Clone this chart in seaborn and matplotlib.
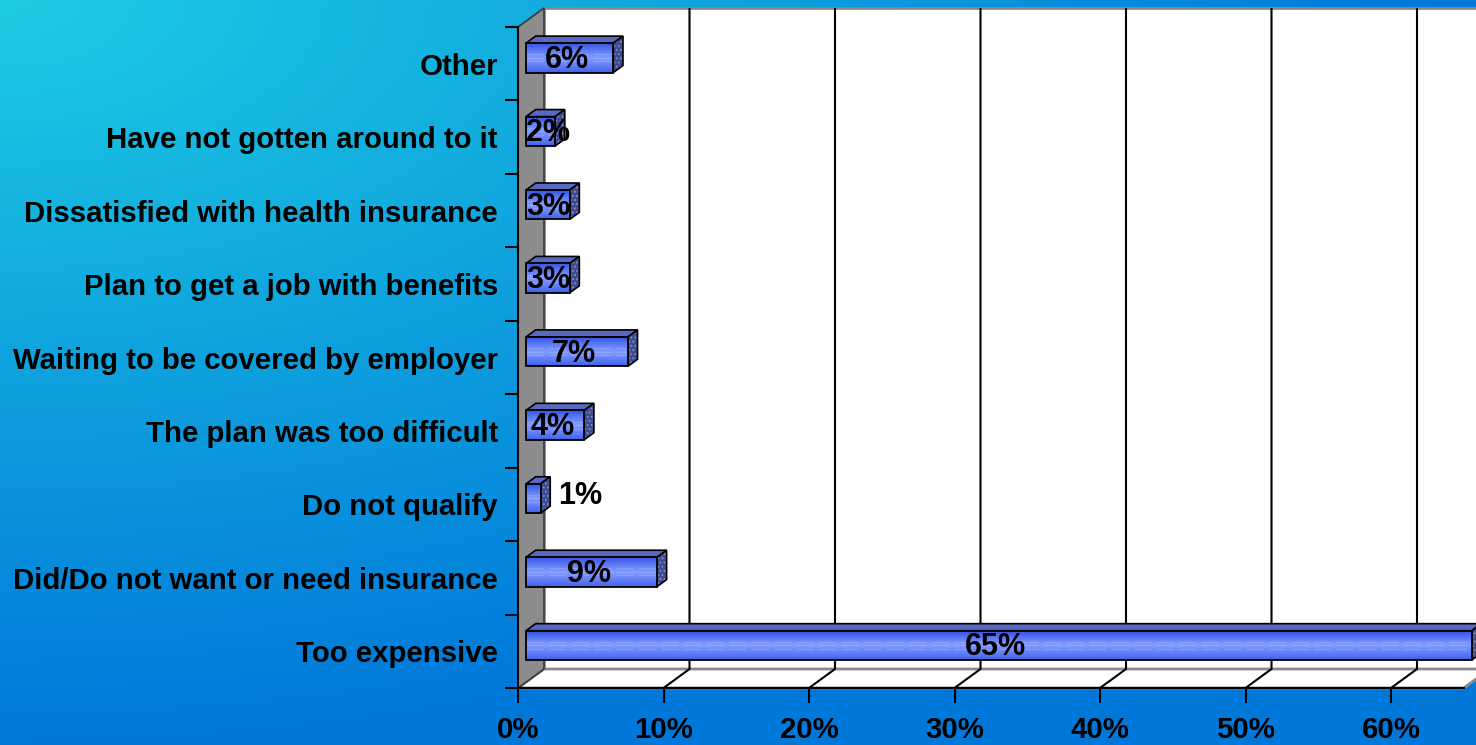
import numpy as np
import pandas as pd
import matplotlib
matplotlib.use("Agg")
import matplotlib.pyplot as plt
import matplotlib.transforms as mtransforms
from matplotlib.patches import Polygon, Rectangle
from matplotlib.colors import LinearSegmentedColormap
import seaborn as sns

# ---- data -------------------------------------------------------------
categories = [
    "Other",
    "Have not gotten around to it",
    "Dissatisfied with health insurance",
    "Plan to get a job with benefits",
    "Waiting to be covered by employer",
    "The plan was too difficult",
    "Do not qualify",
    "Did/Do not want or need insurance",
    "Too expensive",
]
percent = [6, 2, 3, 3, 7, 4, 1, 9, 65]
value_labels = ["6%", "2%", "3%", "3%", "7%", "4%", "1%", "9%", "65%"]
x_ticks = [0, 10, 20, 30, 40, 50, 60]
x_tick_labels = ["0%", "10%", "20%", "30%", "40%", "50%", "60%"]
x_max = 65

# ---- layout -----------------------------------------------------------
W, H, DPI = 1476, 745, 100
AX_LEFT, AX_BOTTOM = 518, 57          # front corner of the floor, in pixels
PX_PER_PCT = 14.55
AX_HEIGHT = 661
DEPTH = np.array([26.0, 19.0])        # oblique offset from front plane to back wall
BAR_FRONT = 0.31                      # depth of the bars' front faces
BAR_DEPTH = 0.37                      # thickness of the bars
LABEL_SIZE = 21.2

plt.rcParams["font.family"] = ["Liberation Sans", "DejaVu Sans"]
plt.rcParams["font.weight"] = "bold"
plt.rcParams["hatch.linewidth"] = 0.8

fig = plt.figure(figsize=(W / DPI, H / DPI), dpi=DPI)

# background: radial cyan-to-blue wash from the top-left corner
bg = fig.add_axes([0, 0, 1, 1], zorder=0)
yy, xx = np.mgrid[0:H, 0:W]
t = np.clip(np.sqrt((xx / 1450.0) ** 2 + (yy / 745.0) ** 2), 0, 1)[..., None]
c0 = np.array([0x1E, 0xCC, 0xE2]) / 255.0
c1 = np.array([0x00, 0x78, 0xDA]) / 255.0
bg.imshow(c0 * (1 - t) + c1 * t, extent=[0, 1, 0, 1], aspect="auto")
bg.set_axis_off()

ax = fig.add_axes([AX_LEFT / W, AX_BOTTOM / H, x_max * PX_PER_PCT / W, AX_HEIGHT / H], zorder=1)
ax.set_facecolor("none")

df = pd.DataFrame({"reason": categories, "share": percent})
sns.barplot(data=df, x="share", y="reason", orient="h", color="#5A78F2",
            saturation=1, width=0.4, edgecolor="black", linewidth=1.3,
            errorbar=None, ax=ax, zorder=5)
bars = list(ax.patches)

ax.set_xlim(0, x_max)
ylo, yhi = len(categories) - 0.5, -0.5
ax.set_ylim(ylo, yhi)


def shift(f):
    return mtransforms.Affine2D().translate(DEPTH[0] * f, DEPTH[1] * f)


def P(x, y, f):
    return ax.transData.transform((x, y)) + DEPTH * f


ident = mtransforms.IdentityTransform()
front_tr = ax.transData + shift(BAR_FRONT)

# back wall, floor and left wall
ax.add_patch(Polygon([P(0, ylo, 1), P(x_max, ylo, 1), P(x_max, yhi, 1), P(0, yhi, 1)],
                     closed=True, transform=ident, facecolor="white",
                     edgecolor="#8a8a8a", lw=2, zorder=0.5, clip_on=False))
ax.add_patch(Polygon([P(0, ylo, 0), P(x_max, ylo, 0), P(x_max, ylo, 1), P(0, ylo, 1)],
                     closed=True, transform=ident, facecolor="white",
                     edgecolor="#8a8a8a", lw=2, zorder=0.6, clip_on=False))
ax.add_patch(Polygon([P(0, ylo, 0), P(0, yhi, 0), P(0, yhi, 1), P(0, ylo, 1)],
                     closed=True, transform=ident, facecolor="#8c8c8c",
                     edgecolor="#3a3a3a", lw=1.2, zorder=0.7, clip_on=False))

# gridlines on the floor and back wall
for xv in x_ticks[1:]:
    pts = np.array([P(xv, ylo, 0), P(xv, ylo, 1), P(xv, yhi, 1)])
    ax.plot(pts[:, 0], pts[:, 1], color="black", lw=1.5, transform=ident,
            zorder=0.8, clip_on=False, solid_capstyle="butt")

# 3-D bars: gradient front face, top face and shaded end face
front_cmap = LinearSegmentedColormap.from_list(
    "front", [(0.0, "#3552E0"), (0.2, "#5574F2"), (0.5, "#819BFF"),
              (0.8, "#5C7AF6"), (1.0, "#3F5EE8")])
bd = DEPTH * BAR_DEPTH
n_strips = 30
for p in bars:
    x0, w, y0, h = p.get_x(), p.get_width(), p.get_y(), p.get_height()
    p.set_transform(front_tr)
    p.set_clip_on(False)
    p.set_facecolor("none")
    p.set_zorder(5.3)
    for k in range(n_strips):
        ax.add_patch(Rectangle((x0, y0 + k * h / n_strips), w, h / n_strips * 1.05,
                               transform=front_tr, facecolor=front_cmap((k + 0.5) / n_strips),
                               lw=0, zorder=5.1, clip_on=False))
    for frac in (0.38, 0.5, 0.62):
        ax.plot([x0, x0 + w], [y0 + frac * h] * 2, color="#B4C4FF", lw=0.9,
                dashes=(14, 4), alpha=0.35, transform=front_tr, zorder=5.2, clip_on=False)
    tl = front_tr.transform((x0, y0))
    tr = front_tr.transform((x0 + w, y0))
    br = front_tr.transform((x0 + w, y0 + h))
    ax.add_patch(Polygon([tl, tr, tr + bd, tl + bd], closed=True, transform=ident,
                         facecolor="#5869C4", edgecolor="black", lw=1.2,
                         zorder=5.0, clip_on=False))
    ax.add_patch(Polygon([tr, br, br + bd, tr + bd], closed=True, transform=ident,
                         facecolor="#3F4C8E", edgecolor="#8090D0", hatch="....",
                         lw=0, zorder=5.0, clip_on=False))
    ax.add_patch(Polygon([tr, br, br + bd, tr + bd], closed=True, transform=ident,
                         facecolor="none", edgecolor="black", lw=1.2,
                         zorder=5.05, clip_on=False))

# value labels
for i, (v, lab) in enumerate(zip(percent, value_labels)):
    if v <= 1:
        ax.text(v, i, lab, transform=front_tr + mtransforms.Affine2D().translate(bd[0] + 8, 2),
                ha="left", va="center", fontsize=22, fontweight="bold", zorder=6, clip_on=False)
    elif v <= 3:
        ax.text(0, i, lab, transform=front_tr + mtransforms.Affine2D().translate(0, -2),
                ha="left", va="center", fontsize=22, fontweight="bold", zorder=6, clip_on=False)
    else:
        ax.text(v / 2, i, lab, transform=front_tr + mtransforms.Affine2D().translate(-3, -2),
                ha="center", va="center", fontsize=22, fontweight="bold", zorder=6, clip_on=False)

# axes, ticks and labels
ax.set_xticks(x_ticks)
ax.set_xticklabels(x_tick_labels)
ax.set_yticks(np.arange(-0.5, len(categories)), minor=True)
ax.tick_params(axis="x", which="major", direction="out", length=10.8, width=1.5,
               pad=9.4, labelsize=LABEL_SIZE, color="black")
ax.tick_params(axis="x", which="minor", length=0)
ax.tick_params(axis="y", which="major", length=0, pad=14.4, labelsize=LABEL_SIZE)
ax.tick_params(axis="y", which="minor", direction="out", length=9.4, width=1.5, color="black")
for lbl in ax.get_xticklabels() + ax.get_yticklabels():
    lbl.set_fontweight("bold")
ax.set_xlabel("")
ax.set_ylabel("")
for side in ("top", "right"):
    ax.spines[side].set_visible(False)
for side in ("left", "bottom"):
    ax.spines[side].set_color("black")
    ax.spines[side].set_linewidth(1.5)
    ax.spines[side].set_zorder(4)

fig.savefig("out.png", dpi=DPI)
